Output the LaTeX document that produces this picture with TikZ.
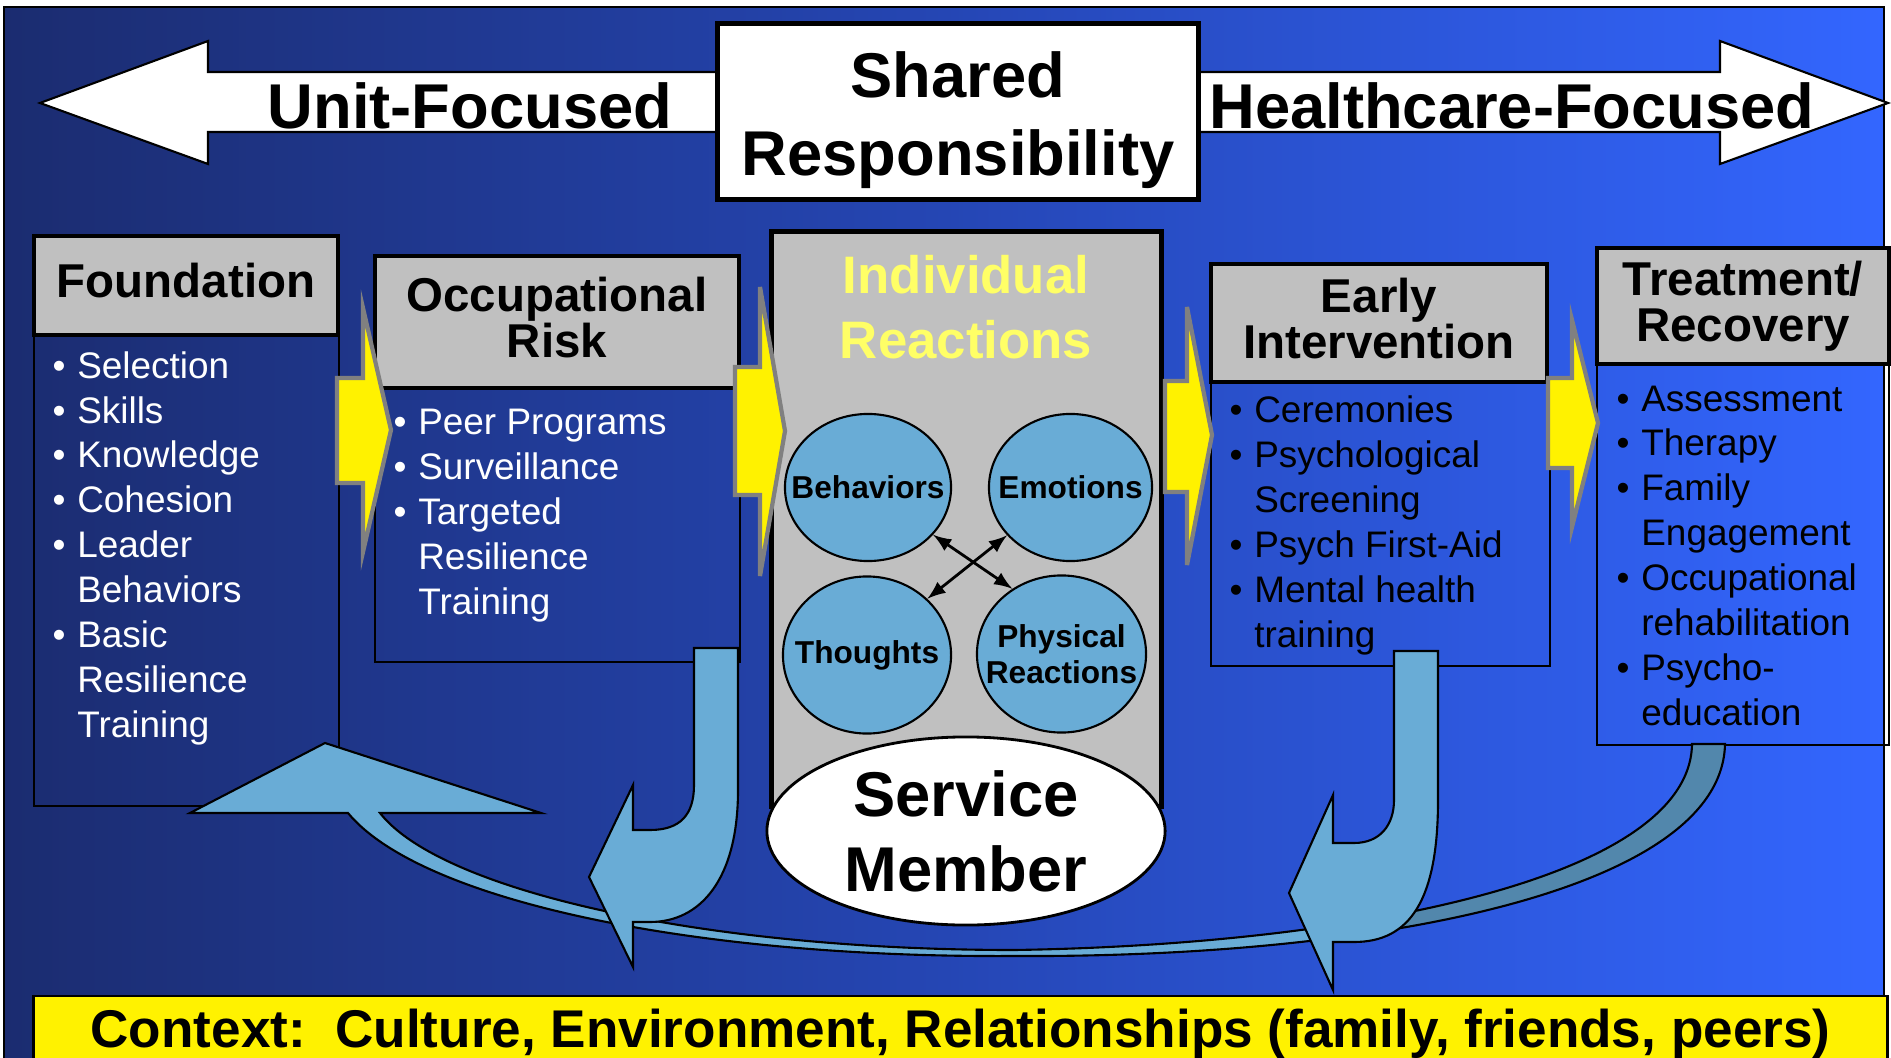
\documentclass[tikz,border=0pt]{standalone}
\usepackage{fontspec}
\setmainfont{Liberation Sans}
\usetikzlibrary{shapes.geometric}

\definecolor{bgleft}{HTML}{1B2C70}
\definecolor{bgmid}{HTML}{2546B4}
\definecolor{bgright}{HTML}{3366FF}
\definecolor{boxgray}{HTML}{C0C0C0}
\definecolor{ovalblue}{HTML}{69ACD6}
\definecolor{arcdark}{HTML}{5287AC}
\definecolor{ltyellow}{HTML}{FFFF66}

\newcommand{\bl}[1]{\makebox[7pt][l]{\textbullet}#1}
\newcommand{\bc}[1]{\hspace*{7pt}#1}
\newcommand{\arcpath}{(348,813) -- (190,813) -- (325,743) -- (541,813) -- (380,813)
  .. controls (440,890) and (700,950) .. (1014,950)
  .. controls (1350,945) and (1690,880) .. (1692,744) -- (1725,744)
  .. controls (1722,890) and (1380,958) .. (1014,956)
  .. controls (690,958) and (420,900) .. (348,813) -- cycle}

\begin{document}
\begin{tikzpicture}[x=0.01cm, y=-0.01cm, >=latex,
    hdr/.style={draw, line width=1.2pt, fill=boxgray, inner sep=0pt},
    hdrtext/.style={align=center, inner sep=0pt, yshift=0.045cm,
                    font=\bfseries\fontsize{13.5}{13.1}\selectfont},
    body/.style={draw, line width=0.7pt, inner sep=0pt},
    items/.style={anchor=base west, align=left, inner sep=0pt,
                  font=\fontsize{10.5}{12.75}\selectfont},
    oval/.style={ellipse, draw, line width=0.6pt, fill=ovalblue, inner sep=-1cm, align=center,
                 font=\bfseries\fontsize{9}{10.3}\selectfont},
    chevron/.style={fill=yellow, draw=gray, line width=1.2pt},
    bigarrow/.style={fill=white, draw=black, line width=0.6pt},
    curved/.style={fill=ovalblue, draw=black, line width=0.6pt},
    bigfont/.style={font=\bfseries\fontsize{18}{22.2}\selectfont}]
  \useasboundingbox (0,0) rectangle (1891,1058);
  \shade[left color=bgleft, right color=bgright, middle color=bgmid] (4,7) rectangle (1884,1070);
  \draw[line width=0.5pt] (4,7) rectangle (1884,1070);

  % top: unit <-- shared --> healthcare
  \filldraw[bigarrow] (40,103) -- (208,41) -- (208,72) -- (730,72) -- (730,132) -- (208,132) -- (208,164) -- cycle;
  \filldraw[bigarrow] (1190,72) -- (1720,72) -- (1720,41) -- (1888,103) -- (1720,164) -- (1720,132) -- (1190,132) -- cycle;
  \node[bigfont] (unit) at (470,106) {Unit-Focused};
  \node[bigfont] (health) at (1512,106) {Healthcare-Focused};
  \node[draw, line width=1.4pt, fill=white, minimum width=4.8cm, minimum height=1.75cm,
        label={[name=sharedtxt, align=center, bigfont, yshift=-0.085cm]center:Shared\\Responsibility}]
        (shared) at (958,111.5) {};

  % stages
  \node[hdr, minimum width=3.04cm, minimum height=0.99cm,
        label={[name=foundtxt, hdrtext]center:Foundation}] (found) at (186,285.5) {};
  \node[body, minimum width=3.05cm, minimum height=4.71cm] (foundbody) at (186.5,570.5) {};
  \node[hdr, minimum width=3.64cm, minimum height=1.32cm,
        label={[name=occtxt, hdrtext]center:Occupational\\Risk}] (occ) at (557,322) {};
  \node[body, minimum width=3.65cm, minimum height=2.74cm] (occbody) at (557.5,525) {};
  \node[hdr, minimum width=3.36cm, minimum height=1.18cm,
        label={[name=earlytxt, hdrtext]center:Early\\Intervention}] (early) at (1379,323) {};
  \node[body, minimum width=3.39cm, minimum height=2.84cm] (earlybody) at (1380.5,524) {};
  \node[hdr, minimum width=2.92cm, minimum height=1.16cm,
        label={[name=treattxt, hdrtext, yshift=-0.045cm]center:Treatment/\\Recovery}] (treat) at (1743,306) {};
  \node[body, minimum width=2.92cm, minimum height=3.81cm] (treatbody) at (1743,554.5) {};

  \node[draw, line width=1.4pt, fill=boxgray, minimum width=3.89cm, minimum height=5.74cm] (indiv) at (966.5,519) {};
  \node[text=ltyellow, align=center, font=\bfseries\fontsize{15}{18.5}\selectfont] (indivtxt) at (966,307) {Individual\\Reactions};

  % feedback arcs
  \fill[ovalblue] \arcpath;
  \begin{scope}
    \clip (1333,600) rectangle (1891,1000);
    \fill[arcdark] \arcpath;
  \end{scope}
  \draw[line width=0.6pt] \arcpath;

  \filldraw[curved] (694,648) -- (738,648) -- (738,790) .. controls (738,880) and (700,922) .. (650,922)
    -- (633,922) -- (633,967) -- (589,877) -- (633,785) -- (633,830) -- (650,830)
    .. controls (680,830) and (694,815) .. (694,785) -- cycle;
  \filldraw[curved] (1394,651) -- (1438,651) -- (1438,800) .. controls (1438,900) and (1410,942) .. (1354,942)
    -- (1333,942) -- (1333,990) -- (1289,893) -- (1333,795) -- (1333,843) -- (1354,843)
    .. controls (1380,843) and (1394,825) .. (1394,800) -- cycle;

  % reactions
  \node[oval, minimum width=1.66cm, minimum height=1.47cm] (beh) at (868,487.5) {Behaviors};
  \node[oval, minimum width=1.63cm, minimum height=1.47cm] (emo) at (1070.5,487.5) {Emotions};
  \node[oval, minimum width=1.68cm, minimum height=1.57cm] (tho) at (867,655) {Thoughts};
  \node[oval, minimum width=1.69cm, minimum height=1.57cm] (phy) at (1061.5,654) {Physical\\Reactions};
  \draw[<->, line width=0.8pt] (beh.-36) -- (phy.127);
  \draw[<->, line width=0.8pt] (emo.-143) -- (tho.43);

  \node[ellipse, draw, line width=0.8pt, fill=white, inner sep=-1cm, minimum width=3.98cm,
        minimum height=1.88cm, align=center, font=\bfseries\fontsize{18}{21.3}\selectfont] (sm) at (966,831) {Service\\Member};

  % yellow chevrons
  \filldraw[chevron] (337,378) -- (363,378) -- (363,308) -- (391,430) -- (363,552) -- (363,483) -- (337,483) -- cycle;
  \filldraw[chevron] (735,367) -- (760,367) -- (760,287) -- (785,431) -- (760,576) -- (760,495) -- (735,495) -- cycle;
  \filldraw[chevron] (1165,381) -- (1187,381) -- (1187,307) -- (1212,435) -- (1187,565) -- (1187,492) -- (1165,492) -- cycle;
  \filldraw[chevron] (1548,378) -- (1572,378) -- (1572,320) -- (1598,423) -- (1572,527) -- (1572,468) -- (1548,468) -- cycle;

  % lists (anchored at the last line)
  \node[items, text=white] (foundlist) at (52,737)
    {\bl{Selection}\\\bl{Skills}\\\bl{Knowledge}\\\bl{Cohesion}\\\bl{Leader}\\\bc{Behaviors}\\\bl{Basic}\\\bc{Resilience}\\\bc{Training}};
  \node[items, text=white] (occlist) at (393,614)
    {\bl{Peer Programs}\\\bl{Surveillance}\\\bl{Targeted}\\\bc{Resilience}\\\bc{Training}};
  \node[items] (earlylist) at (1229,647)
    {\bl{Ceremonies}\\\bl{Psychological}\\\bc{Screening}\\\bl{Psych First-Aid}\\\bl{Mental health}\\\bc{training}};
  \node[items] (treatlist) at (1616,725)
    {\bl{Assessment}\\\bl{Therapy}\\\bl{Family}\\\bc{Engagement}\\\bl{Occupational}\\\bc{rehabilitation}\\\bl{Psycho-}\\\bc{education}};

  % context
  \node[draw, line width=0.8pt, fill=yellow, minimum width=18.53cm, minimum height=0.76cm, inner sep=0pt,
        font=\bfseries\fontsize{15.1}{18}\selectfont] (context) at (960.5,1034)
    {Context:\ \ Culture, Environment, Relationships (family, friends, peers)};
\end{tikzpicture}
\end{document}
